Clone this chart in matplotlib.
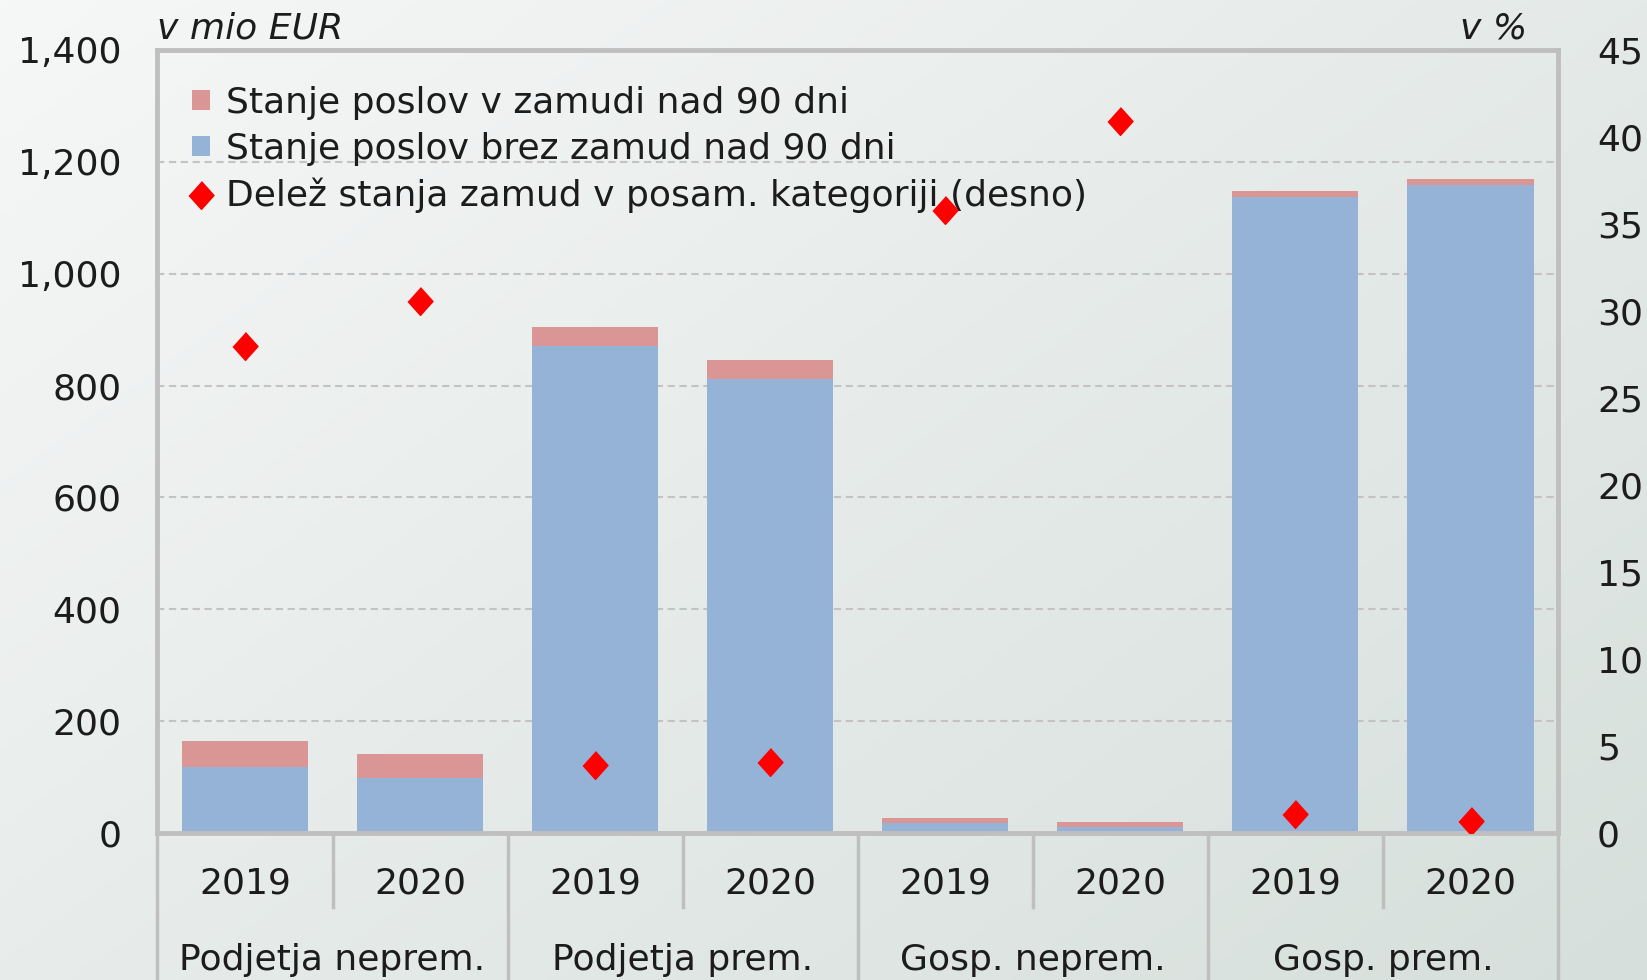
import numpy as np
import matplotlib
matplotlib.use('Agg')
import matplotlib.pyplot as plt
import matplotlib.transforms as mtransforms
from matplotlib.patches import Patch
from matplotlib.lines import Line2D

plt.rcParams['font.family'] = ['DejaVu Sans']

# stanje poslov (mio EUR) in delez zamud (%)
years = ['2019', '2020', '2019', '2020', '2019', '2020', '2019', '2020']
groups = ['Podjetja neprem.', 'Podjetja prem.', 'Gosp. neprem.', 'Gosp. prem.']
no_delay = [118, 98, 870, 811, 17, 11, 1137, 1159]
delay = [46, 43, 35, 35, 10, 8, 11, 10]
share = [28.0, 30.6, 3.9, 4.1, 35.8, 40.9, 1.1, 0.7]

blue = '#95b3d7'
pink = '#d99694'
frame = '#bfbfbf'
txt = '#1c1c1c'
fs = 26

fig = plt.figure(figsize=(16.47, 9.80), dpi=100)
fig.patch.set_facecolor('white')

# diagonal light-grey gradient behind everything
bg = fig.add_axes([0, 0, 1, 1], zorder=-10)
gx, gy = np.meshgrid(np.linspace(0, 1, 300), np.linspace(0, 1, 200))
g = (gx * 0.55 + gy * 0.45)
c0 = np.array([0.965, 0.970, 0.970])
c1 = np.array([0.840, 0.875, 0.860])
img = c0 + (c1 - c0) * g[..., None]
bg.imshow(img, aspect='auto', extent=[0, 1, 0, 1], origin='upper')
bg.axis('off')

ax = fig.add_axes([0.0956, 0.150, 0.8504, 0.799])
ax.patch.set_alpha(0)
x = np.arange(len(years))

ax.bar(x, no_delay, width=0.72, color=blue, zorder=2)
ax.bar(x, delay, bottom=no_delay, width=0.72, color=pink, zorder=2)

ax.set_xlim(-0.5, 7.5)
ax.set_ylim(0, 1400)
ax.set_yticks(range(0, 1401, 200))
ax.set_yticklabels([f'{v:,}' for v in range(0, 1401, 200)])
ax.set_xticks([])
ax.tick_params(axis='y', length=0, pad=26, labelsize=fs, labelcolor=txt)
for y in range(200, 1201, 200):
    ax.axhline(y, color='#c3c3c3', lw=1.5, ls=(0, (3.5, 2.2)), zorder=1)
for s in ax.spines.values():
    s.set_color(frame)
    s.set_linewidth(3.5)

ax2 = ax.twinx()
ax2.set_ylim(0, 45)
ax2.set_yticks(range(0, 46, 5))
ax2.tick_params(axis='y', length=0, pad=28, labelsize=fs, labelcolor=txt)
for s in ax2.spines.values():
    s.set_visible(False)
diamond = [(0, 1), (0.9, 0), (0, -1), (-0.9, 0)]
ax2.plot(x, share, ls='none', marker=diamond, ms=20, color='#ff0000', zorder=3)

# kategorijska os pod grafom
tr = mtransforms.blended_transform_factory(ax.transData, ax.transAxes)
for i, yr in enumerate(years):
    ax.text(i, -0.065, yr, transform=tr, ha='center', va='center', fontsize=fs, color=txt)
for j, grp in enumerate(groups):
    ax.text(2 * j + 0.5, -0.162, grp, transform=tr, ha='center', va='center', fontsize=fs, color=txt)
for b in np.arange(-0.5, 8, 1.0):
    low = -0.2 if (b + 0.5) % 2 == 0 else -0.095
    ax.plot([b, b], [0, low], transform=tr, color=frame, lw=2.5, clip_on=False, zorder=1)

ax.text(0.0, 1.027, 'v mio EUR', transform=ax.transAxes, ha='left', va='center',
        fontsize=fs, style='italic', color=txt)
ax.text(0.978, 1.027, 'v %', transform=ax.transAxes, ha='right', va='center',
        fontsize=fs, style='italic', color=txt)

handles = [Patch(facecolor=pink), Patch(facecolor=blue),
           Line2D([], [], ls='none', marker=diamond, ms=20, color='#ff0000')]
labels = ['Stanje poslov v zamudi nad 90 dni',
          'Stanje poslov brez zamud nad 90 dni',
          'Delež stanja zamud v posam. kategoriji (desno)']
ax.legend(handles, labels, loc='upper left', bbox_to_anchor=(0.0246, 0.954),
          frameon=False, fontsize=fs, handlelength=0.5, handleheight=0.5,
          handletextpad=0.45, labelspacing=0.33, borderaxespad=0, borderpad=0,
          labelcolor=txt)

fig.savefig('out.png', dpi=100)
